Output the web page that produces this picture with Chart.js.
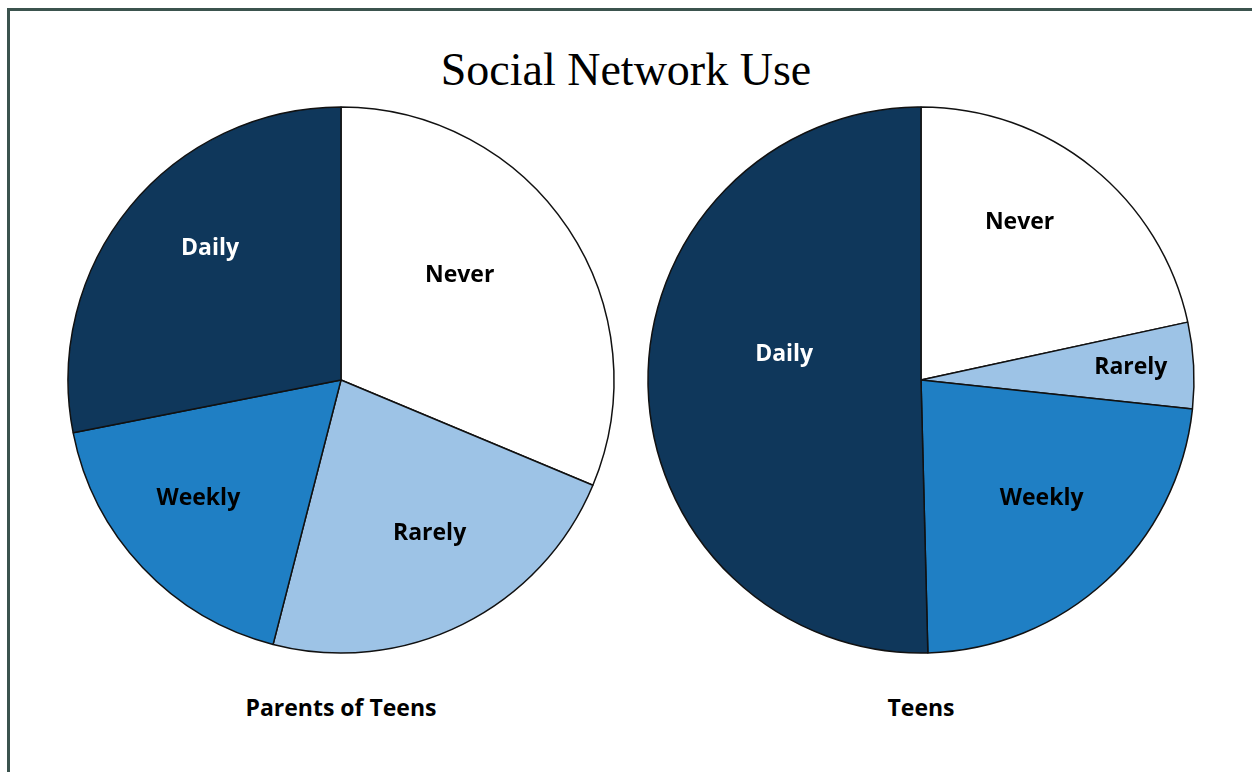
<!DOCTYPE html>
<html>
<head>
<meta charset="utf-8">
<script src="https://cdn.jsdelivr.net/npm/chart.js@4.4.1/dist/chart.umd.min.js"></script>
<style>
  html, body { margin: 0; padding: 0; background: #fff; }
  body { width: 1252px; height: 772px; position: relative; overflow: hidden; }
  #frame {
    position: absolute; left: 7px; top: 8px; width: 1300px; height: 800px;
    border: 3px solid #3b534e; box-sizing: border-box;
  }
  #title {
    position: absolute; left: 0; width: 1252px; top: 43px; text-align: center;
    font-family: "Liberation Serif", "DejaVu Serif", serif; font-size: 46px; color: #000;
  }
  .pie { position: absolute; top: 100px; width: 560px; height: 560px; }
  .caption {
    position: absolute; top: 691px; width: 400px; text-align: center;
    font-family: "Open Sans", Lato, sans-serif; font-weight: bold; font-size: 23px; color: #000;
  }
</style>
</head>
<body>
<div id="frame"></div>
<div id="title">Social Network Use</div>
<div class="pie" style="left:61px"><canvas id="parentsChart" width="560" height="560"></canvas></div>
<div class="pie" style="left:641px"><canvas id="teensChart" width="560" height="560"></canvas></div>
<div class="caption" style="left:141px">Parents of Teens</div>
<div class="caption" style="left:721px">Teens</div>

<script>
const categories = ["Never", "Rarely", "Weekly", "Daily"];
const parentsValues = [31.3, 22.7, 17.9, 28.1];
const teensValues = [21.6, 5.1, 22.9, 50.4];

const sliceColors = ["#ffffff", "#9dc3e6", "#1f7fc4", "#0f375b"];
const labelColors = ["#000000", "#000000", "#000000", "#ffffff"];

// label placement inside each slice: share of the radius, and a nudge in degrees off the middle angle
const parentsLabelFit = [[0.58, -7.8], [0.65, -3.5], [0.68, 3.6], [0.68, 5.7]];
const teensLabelFit = [[0.68, -6.8], [0.77, -0.4], [0.62, -2.8], [0.51, 11.4]];

// writes each category name inside its slice
const sliceLabels = {
  id: "sliceLabels",
  afterDatasetsDraw(chart, args, opts) {
    const ctx = chart.ctx;
    const meta = chart.getDatasetMeta(0);
    ctx.save();
    ctx.font = "bold 23px 'Open Sans', Lato, sans-serif";
    ctx.textAlign = "center";
    ctx.textBaseline = "middle";
    meta.data.forEach((arc, i) => {
      const p = arc.getProps(["x", "y", "startAngle", "endAngle", "outerRadius"], true);
      const fit = opts.fit[i];
      const mid = (p.startAngle + p.endAngle) / 2 + fit[1] * Math.PI / 180;
      const r = p.outerRadius * fit[0];
      ctx.fillStyle = labelColors[i];
      ctx.fillText(categories[i], p.x + Math.cos(mid) * r, p.y + Math.sin(mid) * r);
    });
    ctx.restore();
  }
};

function makePie(id, values, fit) {
  return new Chart(document.getElementById(id), {
    type: "pie",
    data: {
      labels: categories,
      datasets: [{
        data: values,
        backgroundColor: sliceColors,
        borderColor: "#111111",
        borderWidth: 1.5,
        radius: 273
      }]
    },
    options: {
      responsive: false,
      animation: false,
      layout: { padding: 0 },
      plugins: {
        legend: { display: false },
        tooltip: { enabled: false },
        sliceLabels: { fit: fit }
      }
    },
    plugins: [sliceLabels]
  });
}

makePie("parentsChart", parentsValues, parentsLabelFit);
makePie("teensChart", teensValues, teensLabelFit);
</script>
</body>
</html>
